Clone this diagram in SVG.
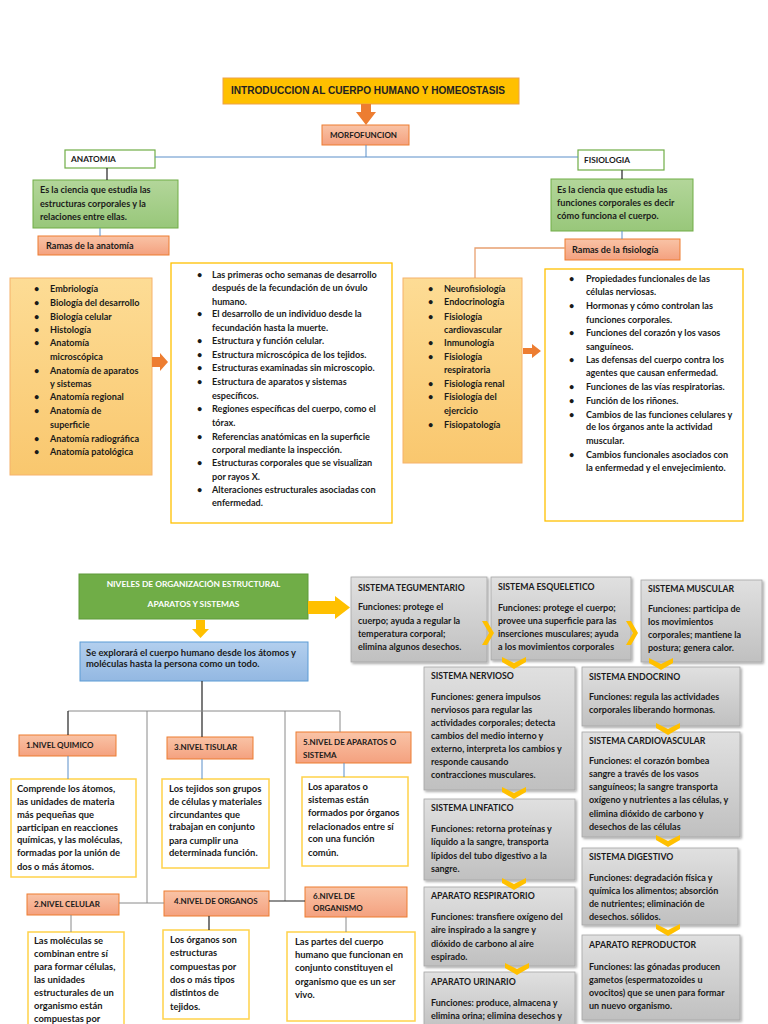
<svg xmlns="http://www.w3.org/2000/svg" width="768" height="1024" viewBox="0 0 768 1024">
<defs>
<linearGradient id="gSalmon" x1="0" y1="0" x2="0" y2="1"><stop offset="0" stop-color="#F9C3A6"/><stop offset="1" stop-color="#F4A17F"/></linearGradient>
<linearGradient id="gGreen" x1="0" y1="0" x2="0" y2="1"><stop offset="0" stop-color="#B3D69A"/><stop offset="1" stop-color="#98C77A"/></linearGradient>
<linearGradient id="gOrange" x1="0" y1="0" x2="0" y2="1"><stop offset="0" stop-color="#FDDC95"/><stop offset="1" stop-color="#F9C76E"/></linearGradient>
<linearGradient id="gBlue" x1="0" y1="0" x2="0" y2="1"><stop offset="0" stop-color="#B3CFEE"/><stop offset="1" stop-color="#93B8E2"/></linearGradient>
<linearGradient id="gGray" x1="0" y1="0" x2="0" y2="1"><stop offset="0" stop-color="#E0E0E0"/><stop offset="1" stop-color="#C0C0C0"/></linearGradient>
<filter id="sh" x="-10%" y="-10%" width="125%" height="125%"><feDropShadow dx="1.5" dy="1.5" stdDeviation="1.2" flood-color="#000" flood-opacity="0.35"/></filter>
<path id="chevD" d="M-12,-6 L0,0 L12,-6 L12,-1 L0,6 L-12,-1 Z" fill="#FFC000"/>
<path id="chevR" d="M-6,-12 L1,0 L-6,12 L-1,12 L6,0 L-1,-12 Z" fill="#FFC000"/>
</defs>
<style>
.t{font-family:Lato,"Liberation Sans",sans-serif;font-weight:700;font-size:9.1px;fill:#1a1a1a}
.b{font-family:Lato,"Liberation Sans",sans-serif;font-weight:700;font-size:9.4px;fill:#1a1a1a}
.s{font-family:Lato,"Liberation Sans",sans-serif;font-weight:700;font-size:9px;fill:#1a1a1a}
.st{font-family:Lato,"Liberation Sans",sans-serif;font-weight:700;font-size:8.7px;fill:#1a1a1a}
.h{font-family:Lato,"Liberation Sans",sans-serif;font-weight:700;font-size:8px;fill:#1a1a1a}
.hh{font-family:Lato,"Liberation Sans",sans-serif;font-weight:700;font-size:8.3px;fill:#1a1a1a}
.w{font-family:Lato,"Liberation Sans",sans-serif;font-weight:700;font-size:8.4px;fill:#ffffff}
.salmon{fill:url(#gSalmon);stroke:#ED7D31;stroke-width:1}
.green{fill:url(#gGreen);stroke:#70AD47;stroke-width:1}
.wgreen{fill:#ffffff;stroke:#70AD47;stroke-width:1.2}
.orange{fill:url(#gOrange);stroke:#F6B26B;stroke-width:1}
.wgold{fill:#ffffff;stroke:#FFC000;stroke-width:1.3}
.wyel{fill:#ffffff;stroke:#FFD24A;stroke-width:1.5}
.gray{fill:url(#gGray);stroke:#A6A6A6;stroke-width:0.8;filter:url(#sh)}
.blueln{stroke:#5B8FC9;stroke-width:1;fill:none}
.blkln{stroke:#222;stroke-width:1.2;fill:none}
.grayln{stroke:#8a8a8a;stroke-width:1;fill:none}
.orln{stroke:#E8A070;stroke-width:1.3;fill:none}
</style>
<rect width="768" height="1024" fill="#ffffff"/>

<g id="title">
<rect x="223" y="78" width="296" height="26" fill="#FFC000" stroke="#EDA24A" stroke-width="1"/>
<text x="231" y="94" font-family="'Liberation Sans',Arial,sans-serif" font-weight="700" font-size="11" fill="#222" textLength="274" lengthAdjust="spacingAndGlyphs">INTRODUCCION AL CUERPO HUMANO Y HOMEOSTASIS</text>
</g>
<g id="morfofuncion">
<rect class="salmon" x="322" y="125" width="87" height="20"/>
<text class="h" x="330" y="138">MORFOFUNCION</text>
</g>
<g id="anatomia">
<rect class="wgreen" x="65" y="150" width="90" height="18"/>
<text class="hh" x="71" y="162">ANATOMIA</text>
</g>
<g id="fisiologia">
<rect class="wgreen" x="578" y="150" width="86" height="20"/>
<text class="hh" x="584" y="163">FISIOLOGIA</text>
</g>
<g id="def-anatomia">
<rect class="green" x="33" y="180" width="145" height="48"/>
<text class="t" x="40" y="193">Es la ciencia que estudia las</text>
<text class="t" x="40" y="207">estructuras corporales y la</text>
<text class="t" x="40" y="220">relaciones entre ellas.</text>
</g>
<g id="def-fisiologia">
<rect class="green" x="551" y="179" width="142" height="52"/>
<text class="t" x="557" y="193">Es la ciencia que estudia las</text>
<text class="t" x="557" y="206">funciones corporales es decir</text>
<text class="t" x="557" y="219">cómo funciona el cuerpo.</text>
</g>
<g id="ramas-anatomia">
<rect class="salmon" x="38" y="236" width="131" height="19"/>
<text class="t" x="46" y="249">Ramas de la anatomía</text>
</g>
<g id="ramas-fisiologia">
<rect class="salmon" x="565" y="239" width="115" height="21"/>
<text class="t" x="572" y="253">Ramas de la fisiología</text>
</g>

<g id="lista-anatomia">
<rect class="orange" x="10" y="278" width="142" height="197"/>
<g class="t">
<text x="34" y="292">•</text><text x="50" y="292">Embriología</text>
<text x="34" y="306">•</text><text x="50" y="306">Biología del desarrollo</text>
<text x="34" y="320">•</text><text x="50" y="320">Biología celular</text>
<text x="34" y="333">•</text><text x="50" y="333">Histología</text>
<text x="34" y="346">•</text><text x="50" y="346">Anatomía</text>
<text x="50" y="360">microscópica</text>
<text x="34" y="374">•</text><text x="50" y="374">Anatomía de aparatos</text>
<text x="50" y="387">y sistemas</text>
<text x="34" y="400">•</text><text x="50" y="400">Anatomía regional</text>
<text x="34" y="414">•</text><text x="50" y="414">Anatomía de</text>
<text x="50" y="428">superficie</text>
<text x="34" y="442">•</text><text x="50" y="442">Anatomía radiográfica</text>
<text x="34" y="455">•</text><text x="50" y="455">Anatomía patológica</text>
</g>
</g>

<g id="desc-anatomia">
<rect class="wgold" x="171" y="263" width="221" height="260"/>
<g class="t">
<text x="197" y="278">•</text><text x="212" y="278">Las primeras ocho semanas de desarrollo</text>
<text x="212" y="291">después de la fecundación de un óvulo</text>
<text x="212" y="305">humano.</text>
<text x="197" y="317">•</text><text x="212" y="317">El desarrollo de un individuo desde la</text>
<text x="212" y="331">fecundación hasta la muerte.</text>
<text x="197" y="344">•</text><text x="212" y="344">Estructura y función celular.</text>
<text x="197" y="358">•</text><text x="212" y="358">Estructura microscópica de los tejidos.</text>
<text x="197" y="371">•</text><text x="212" y="371">Estructuras examinadas sin microscopio.</text>
<text x="197" y="385">•</text><text x="212" y="385"> Estructura de aparatos y sistemas</text>
<text x="212" y="399">específicos.</text>
<text x="197" y="412">•</text><text x="212" y="412">Regiones específicas del cuerpo, como el</text>
<text x="212" y="426">tórax.</text>
<text x="197" y="440">•</text><text x="212" y="440"> Referencias anatómicas en la superficie</text>
<text x="212" y="453">corporal mediante la inspección.</text>
<text x="197" y="466">•</text><text x="212" y="466">Estructuras corporales que se visualizan</text>
<text x="212" y="480">por rayos X.</text>
<text x="197" y="493">•</text><text x="212" y="493">Alteraciones estructurales asociadas con</text>
<text x="212" y="506">enfermedad.</text>
</g>
</g>

<g id="lista-fisiologia">
<rect class="orange" x="403" y="278" width="119" height="185"/>
<g class="t">
<text x="428" y="292">•</text><text x="444" y="292">Neurofisiología</text>
<text x="428" y="305">•</text><text x="444" y="305">Endocrinología</text>
<text x="428" y="320">•</text><text x="444" y="320">Fisiología</text>
<text x="444" y="333">cardiovascular</text>
<text x="428" y="346">•</text><text x="444" y="346">Inmunología</text>
<text x="428" y="360">•</text><text x="444" y="360">Fisiología</text>
<text x="444" y="373">respiratoria</text>
<text x="428" y="387">•</text><text x="444" y="387">Fisiología renal</text>
<text x="428" y="400">•</text><text x="444" y="400">Fisiología del</text>
<text x="444" y="414">ejercicio</text>
<text x="428" y="428">•</text><text x="444" y="428">Fisiopatología</text>
</g>
</g>

<g id="desc-fisiologia">
<rect class="wgold" x="545" y="269" width="198" height="252"/>
<g class="t">
<text x="569" y="282">•</text><text x="586" y="282">Propiedades funcionales de las</text>
<text x="586" y="295">células nerviosas.</text>
<text x="569" y="309">•</text><text x="586" y="309">Hormonas y cómo controlan las</text>
<text x="586" y="323">funciones corporales.</text>
<text x="569" y="336">•</text><text x="586" y="336">Funciones del corazón y los vasos</text>
<text x="586" y="350">sanguíneos.</text>
<text x="569" y="363">•</text><text x="586" y="363">Las defensas del cuerpo contra los</text>
<text x="586" y="376">agentes que causan enfermedad.</text>
<text x="569" y="390">•</text><text x="586" y="390">Funciones de las vías respiratorias.</text>
<text x="569" y="404">•</text><text x="586" y="404">Función de los riñones.</text>
<text x="569" y="418">•</text><text x="586" y="418">Cambios de las funciones celulares y</text>
<text x="586" y="430">de los órganos ante la actividad</text>
<text x="586" y="444">muscular.</text>
<text x="569" y="458">•</text><text x="586" y="458">Cambios funcionales asociados con</text>
<text x="586" y="471">la enfermedad y el envejecimiento.</text>
</g>
</g>

<g id="niveles">
<rect x="79" y="574" width="229" height="45" fill="#70AD47" stroke="#5E9A3A" stroke-width="1"/>
<text class="w" x="193.5" y="587" text-anchor="middle">NIVELES DE ORGANIZACIÓN ESTRUCTURAL</text>
<text class="w" x="193.5" y="607" text-anchor="middle">APARATOS Y SISTEMAS</text>
</g>
<g id="explorara">
<rect x="80" y="642" width="228" height="39" fill="url(#gBlue)" stroke="#5B9BD5" stroke-width="1"/>
<text class="b" x="86" y="656">Se explorará el cuerpo humano desde los átomos y</text>
<text class="b" x="86" y="667">moléculas hasta la persona como un todo.</text>
</g>

<g id="nivel1">
<rect class="salmon" x="19" y="735" width="97" height="21"/>
<text class="h" x="26" y="748">1.NIVEL QUIMICO</text>
</g>
<g id="texto1">
<rect class="wyel" x="11" y="779" width="125" height="98"/>
<g class="b">
<text x="17" y="792">Comprende los átomos,</text>
<text x="17" y="805">las unidades de materia</text>
<text x="17" y="818">más pequeñas que</text>
<text x="17" y="831">participan en reacciones</text>
<text x="17" y="843">químicas, y las moléculas,</text>
<text x="17" y="856">formadas por la unión de</text>
<text x="17" y="870">dos o más átomos.</text>
</g>
</g>
<g id="nivel3">
<rect class="salmon" x="167" y="737" width="86" height="22"/>
<text class="h" x="174" y="750">3.NIVEL TISULAR</text>
</g>
<g id="texto3">
<rect class="wyel" x="162" y="779" width="107" height="89"/>
<g class="b">
<text x="169" y="792">Los tejidos son grupos</text>
<text x="169" y="805">de células y materiales</text>
<text x="169" y="818">circundantes que</text>
<text x="169" y="830">trabajan en conjunto</text>
<text x="169" y="844">para cumplir una</text>
<text x="169" y="856">determinada función.</text>
</g>
</g>
<g id="nivel5">
<rect class="salmon" x="296" y="732" width="115" height="31"/>
<text class="h" x="303" y="745">5.NIVEL DE APARATOS O</text>
<text class="h" x="303" y="758">SISTEMA</text>
</g>
<g id="texto5">
<rect class="wyel" x="302" y="777" width="106" height="89"/>
<g class="b">
<text x="308" y="790">Los aparatos o</text>
<text x="308" y="803">sistemas están</text>
<text x="308" y="816">formados por órganos</text>
<text x="308" y="830">relacionados entre sí</text>
<text x="308" y="842">con una función</text>
<text x="308" y="856">común.</text>
</g>
</g>
<g id="nivel2">
<rect class="salmon" x="27" y="894" width="92" height="21"/>
<text class="h" x="34" y="907">2.NIVEL CELULAR</text>
</g>
<g id="texto2">
<rect class="wyel" x="28" y="932" width="96" height="100"/>
<g class="b">
<text x="34" y="944">Las moléculas se</text>
<text x="34" y="957">combinan entre sí</text>
<text x="34" y="970">para formar células,</text>
<text x="34" y="983">las unidades</text>
<text x="34" y="996">estructurales de un</text>
<text x="34" y="1009">organismo están</text>
<text x="34" y="1022">compuestas por</text>
</g>
</g>
<g id="nivel4">
<rect class="salmon" x="164" y="891" width="105" height="25"/>
<text class="h" x="174" y="904">4.NIVEL DE ORGANOS</text>
</g>
<g id="texto4">
<rect class="wyel" x="163" y="930" width="86" height="89"/>
<g class="b">
<text x="170" y="943">Los órganos son</text>
<text x="170" y="956">estructuras</text>
<text x="170" y="970">compuestas por</text>
<text x="170" y="983">dos o más tipos</text>
<text x="170" y="996">distintos de</text>
<text x="170" y="1010">tejidos.</text>
</g>
</g>
<g id="nivel6">
<rect class="salmon" x="305" y="887" width="102" height="30"/>
<text class="h" x="313" y="899">6.NIVEL DE</text>
<text class="h" x="313" y="911">ORGANISMO</text>
</g>
<g id="texto6">
<rect class="wyel" x="287" y="932" width="128" height="89"/>
<g class="b">
<text x="295" y="945"> Las partes del cuerpo</text>
<text x="295" y="958">humano que funcionan en</text>
<text x="295" y="971">conjunto constituyen el</text>
<text x="295" y="985">organismo que es un ser</text>
<text x="295" y="998">vivo.</text>
</g>
</g>

<g id="tegumentario">
<rect class="gray" x="351" y="577" width="136" height="85"/>
<text class="st" x="358" y="591">SISTEMA TEGUMENTARIO</text>
<text class="s" x="358" y="610">Funciones: protege el</text>
<text class="s" x="358" y="624">cuerpo; ayuda a regular la</text>
<text class="s" x="358" y="637">temperatura corporal;</text>
<text class="s" x="358" y="650">elimina algunos desechos.</text>
</g>
<g id="esqueletico">
<rect class="gray" x="491" y="577" width="140" height="83"/>
<text class="st" x="498" y="590">SISTEMA ESQUELETICO</text>
<text class="s" x="498" y="611">Funciones: protege el cuerpo;</text>
<text class="s" x="498" y="624">provee una superficie para las</text>
<text class="s" x="498" y="637">inserciones musculares; ayuda</text>
<text class="s" x="498" y="650">a los movimientos corporales</text>
</g>
<g id="muscular">
<rect class="gray" x="641" y="580" width="121" height="82"/>
<text class="st" x="648" y="592">SISTEMA MUSCULAR</text>
<text class="s" x="648" y="612">Funciones: participa de</text>
<text class="s" x="648" y="625">los movimientos</text>
<text class="s" x="648" y="638">corporales; mantiene la</text>
<text class="s" x="648" y="651">postura; genera calor.</text>
</g>
<g id="nervioso">
<rect class="gray" x="424" y="667" width="151" height="123"/>
<text class="st" x="431" y="679">SISTEMA NERVIOSO</text>
<text class="s" x="431" y="700">Funciones: genera impulsos</text>
<text class="s" x="431" y="713">nerviosos para regular las</text>
<text class="s" x="431" y="726">actividades corporales; detecta</text>
<text class="s" x="431" y="739">cambios del medio interno y</text>
<text class="s" x="431" y="752">externo, interpreta los cambios y</text>
<text class="s" x="431" y="765">responde causando</text>
<text class="s" x="431" y="778">contracciones musculares.</text>
</g>
<g id="endocrino">
<rect class="gray" x="582" y="667" width="158" height="59"/>
<text class="st" x="589" y="680">SISTEMA ENDOCRINO</text>
<text class="s" x="589" y="700">Funciones: regula las actividades</text>
<text class="s" x="589" y="713">corporales liberando hormonas.</text>
</g>
<g id="cardiovascular">
<rect class="gray" x="582" y="732" width="158" height="105"/>
<text class="st" x="589" y="744">SISTEMA CARDIOVASCULAR</text>
<text class="s" x="589" y="764">Funciones: el corazón bombea</text>
<text class="s" x="589" y="777">sangre a través de los vasos</text>
<text class="s" x="589" y="790">sanguíneos; la sangre transporta</text>
<text class="s" x="589" y="803">oxígeno y nutrientes a las células, y</text>
<text class="s" x="589" y="817">elimina dióxido de carbono y</text>
<text class="s" x="589" y="830">desechos de las células</text>
</g>
<g id="linfatico">
<rect class="gray" x="424" y="799" width="151" height="81"/>
<text class="st" x="431" y="811">SISTEMA LINFATICO</text>
<text class="s" x="431" y="832">Funciones: retorna proteínas y</text>
<text class="s" x="431" y="845">líquido a la sangre, transporta</text>
<text class="s" x="431" y="859">lípidos del tubo digestivo a la</text>
<text class="s" x="431" y="872">sangre.</text>
</g>
<g id="digestivo">
<rect class="gray" x="582" y="848" width="156" height="77"/>
<text class="st" x="589" y="860">SISTEMA DIGESTIVO</text>
<text class="s" x="589" y="881">Funciones: degradación física y</text>
<text class="s" x="589" y="894">química los alimentos; absorción</text>
<text class="s" x="589" y="907">de nutrientes; eliminación de</text>
<text class="s" x="589" y="920">desechos. sólidos.</text>
</g>
<g id="respiratorio">
<rect class="gray" x="424" y="887" width="151" height="79"/>
<text class="st" x="431" y="899">APARATO RESPIRATORIO</text>
<text class="s" x="431" y="920">Funciones: transfiere oxígeno del</text>
<text class="s" x="431" y="933">aire inspirado a la sangre y</text>
<text class="s" x="431" y="947">dióxido de carbono al aire</text>
<text class="s" x="431" y="960">espirado.</text>
</g>
<g id="reproductor">
<rect class="gray" x="582" y="935" width="158" height="85"/>
<text class="st" x="589" y="948">APARATO REPRODUCTOR</text>
<text class="s" x="589" y="970">Funciones: las gónadas producen</text>
<text class="s" x="589" y="983">gametos (espermatozoides u</text>
<text class="s" x="589" y="996">ovocitos) que se unen para formar</text>
<text class="s" x="589" y="1009">un nuevo organismo.</text>
</g>
<g id="urinario">
<rect class="gray" x="424" y="972" width="151" height="60"/>
<text class="st" x="431" y="985">APARATO URINARIO</text>
<text class="s" x="431" y="1006">Funciones: produce, almacena y</text>
<text class="s" x="431" y="1019">elimina orina; elimina desechos y</text>
</g>

<g id="connectors">
<line class="blueln" x1="366" y1="145" x2="366" y2="157"/>
<line class="blueln" x1="155" y1="157" x2="578" y2="157"/>
<line class="blkln" x1="107" y1="168" x2="107" y2="180"/>
<line class="blkln" x1="622" y1="170" x2="622" y2="179"/>
<line class="blueln" x1="100" y1="228" x2="100" y2="236"/>
<line class="blueln" x1="622" y1="231" x2="622" y2="239"/>
<polyline class="orln" points="565,248 475,248 475,278"/>
<polygon fill="#ED7D31" points="361,104 371,104 371,112 376,112 366,125 356,112 361,112"/>
<polygon fill="#ED7D31" points="152,357 160,357 160,353 168,362 160,371 160,367 152,367"/>
<polygon fill="#ED7D31" points="523,348 532,348 532,344 541,351 532,358 532,354 523,354"/>
<polygon fill="#FFC000" points="196,620 205,620 205,629 209,629 200.5,638 192,629 196,629"/>
<polygon fill="#FFC000" points="308,601 335,601 335,596 350,607.5 335,619 335,614 308,614"/>
<line class="blkln" x1="202" y1="681" x2="202" y2="737"/>
<line class="grayln" x1="68" y1="711" x2="340" y2="711"/>
<line class="blkln" x1="68" y1="711" x2="68" y2="735"/>
<line class="grayln" x1="147" y1="711" x2="147" y2="903"/>
<line class="grayln" x1="285" y1="711" x2="285" y2="901"/>
<line class="grayln" x1="340" y1="711" x2="340" y2="732"/>
<line class="blueln" x1="68" y1="756" x2="68" y2="779"/>
<line class="blueln" x1="202" y1="759" x2="202" y2="779"/>
<line class="blueln" x1="344" y1="763" x2="344" y2="777"/>
<line class="grayln" x1="119" y1="903" x2="164" y2="903"/>
<line class="blkln" x1="269" y1="901" x2="305" y2="901"/>
<line class="grayln" x1="71" y1="915" x2="71" y2="932"/>
<line class="blkln" x1="209" y1="916" x2="209" y2="930"/>
<line class="grayln" x1="346" y1="917" x2="346" y2="932"/>
<use href="#chevR" x="488" y="633"/>
<use href="#chevR" x="632" y="633"/>
<use href="#chevD" x="514" y="663"/>
<use href="#chevD" x="661" y="664"/>
<use href="#chevD" x="514" y="793"/>
<use href="#chevD" x="668" y="729"/>
<use href="#chevD" x="514" y="884"/>
<use href="#chevD" x="668" y="841"/>
<use href="#chevD" x="517" y="969"/>
<use href="#chevD" x="668" y="930"/>
</g>
</svg>
